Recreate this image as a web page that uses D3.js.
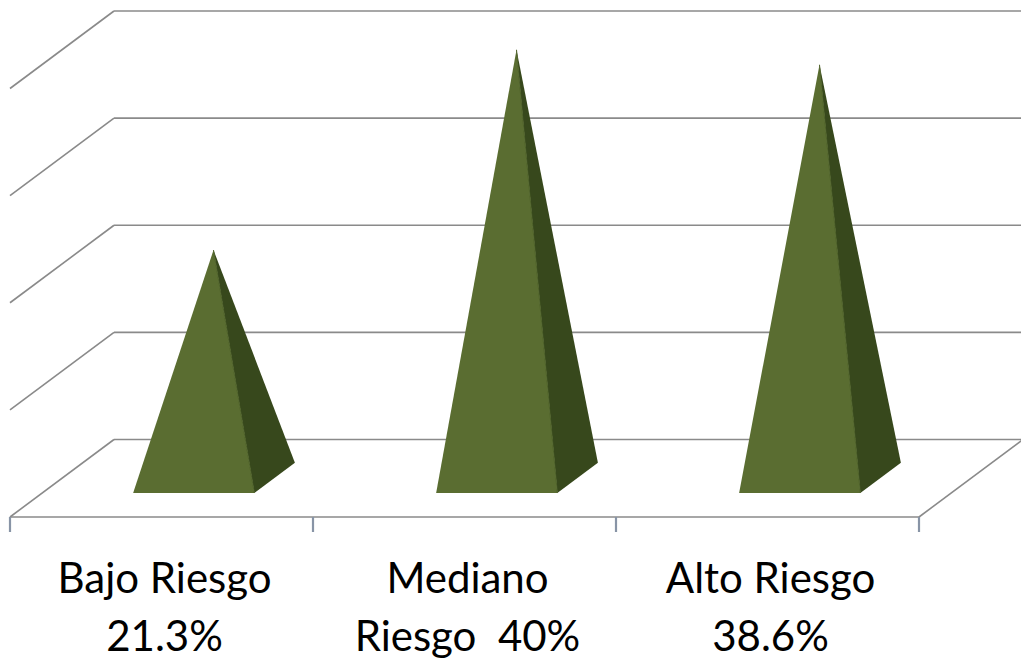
<!DOCTYPE html>
<html>
<head>
<meta charset="utf-8">
<script src="https://cdnjs.cloudflare.com/ajax/libs/d3/7.8.5/d3.min.js"></script>
<style>
  html, body { margin: 0; padding: 0; background: #ffffff; }
  svg { display: block; }
</style>
</head>
<body>
<svg id="chart" width="1021" height="661"></svg>
<script>
// ---- data ----
const categories = ["Bajo Riesgo", "Mediano Riesgo", "Alto Riesgo"];
const values = [21.3, 40, 38.6];
const labelLines = [["Bajo Riesgo", "21.3%"], ["Mediano", "Riesgo  40%"], ["Alto Riesgo", "38.6%"]];
const gridValues = [0, 10, 20, 30, 40];

// ---- layout ----
const W = 1021, H = 661;
const floorY = 517;          // front edge of floor
const depthDX = 104, depthDY = -77.5;  // 3D depth offset
const svg = d3.select("#chart");

const x = d3.scaleBand().domain(categories).range([10, 919]).paddingInner(0).paddingOuter(0);
const h = d3.scaleLinear().domain([0, 40]).range([0, 428.5]);

const gridColor = "#8a8a8a";
const g = svg.append("g");

// back wall gridlines + left side wall diagonals
gridValues.forEach(v => {
  const yb = floorY + depthDY - h(v);
  const xl = 10 + depthDX;
  g.append("line").attr("x1", xl).attr("y1", yb).attr("x2", 919 + depthDX + 5).attr("y2", yb)
    .attr("stroke", gridColor).attr("stroke-width", 1.6);
  g.append("line").attr("x1", xl).attr("y1", yb).attr("x2", 10).attr("y2", yb - depthDY)
    .attr("stroke", gridColor).attr("stroke-width", 1.6);
});

// floor front edge and right edge
g.append("line").attr("x1", 10).attr("y1", floorY).attr("x2", 919).attr("y2", floorY)
  .attr("stroke", gridColor).attr("stroke-width", 1.6);
g.append("line").attr("x1", 919).attr("y1", floorY).attr("x2", 919 + depthDX).attr("y2", floorY + depthDY)
  .attr("stroke", gridColor).attr("stroke-width", 1.6);

// category ticks
const tickPos = categories.map(c => x(c)).concat([x(categories[categories.length - 1]) + x.bandwidth()]);
tickPos.forEach(tx => {
  g.append("line").attr("x1", tx).attr("y1", floorY).attr("x2", tx).attr("y2", floorY + 15)
    .attr("stroke", "#8894a6").attr("stroke-width", 2.2);
});

// pyramids
const d0 = 0.31, d1 = 0.70, dm = 0.5;
const halfW = x.bandwidth() * 0.2;
const pts = p => p.map(q => q.join(",")).join(" ");
categories.forEach((c, i) => {
  const cx = x(c) + x.bandwidth() / 2;
  const fl = [cx - halfW + depthDX * d0, floorY + depthDY * d0];
  const fr = [cx + halfW + depthDX * d0, floorY + depthDY * d0];
  const br = [cx + halfW + depthDX * d1, floorY + depthDY * d1];
  const apex = [cx + depthDX * dm, floorY + depthDY * dm - h(values[i])];
  g.append("polygon").attr("points", pts([fr, br, apex])).attr("fill", "#37481c");
  g.append("polygon").attr("points", pts([fl, fr, apex])).attr("fill", "#5a6d31");
  g.append("line").attr("x1", fr[0]).attr("y1", fr[1]).attr("x2", apex[0]).attr("y2", apex[1])
    .attr("stroke", "#4d6028").attr("stroke-width", 1);
});

// labels
categories.forEach((c, i) => {
  const cx = x(c) + x.bandwidth() / 2 + 3;
  const t = svg.append("text").attr("text-anchor", "middle")
    .attr("font-family", "Lato, 'Open Sans', sans-serif").attr("font-size", 42)
    .attr("fill", "#000");
  labelLines[i].forEach((ln, k) => {
    t.append("tspan").attr("x", cx).attr("y", 593 + k * 58).attr("xml:space", "preserve")
      .style("white-space", "pre").text(ln);
  });
});
</script>
</body>
</html>
